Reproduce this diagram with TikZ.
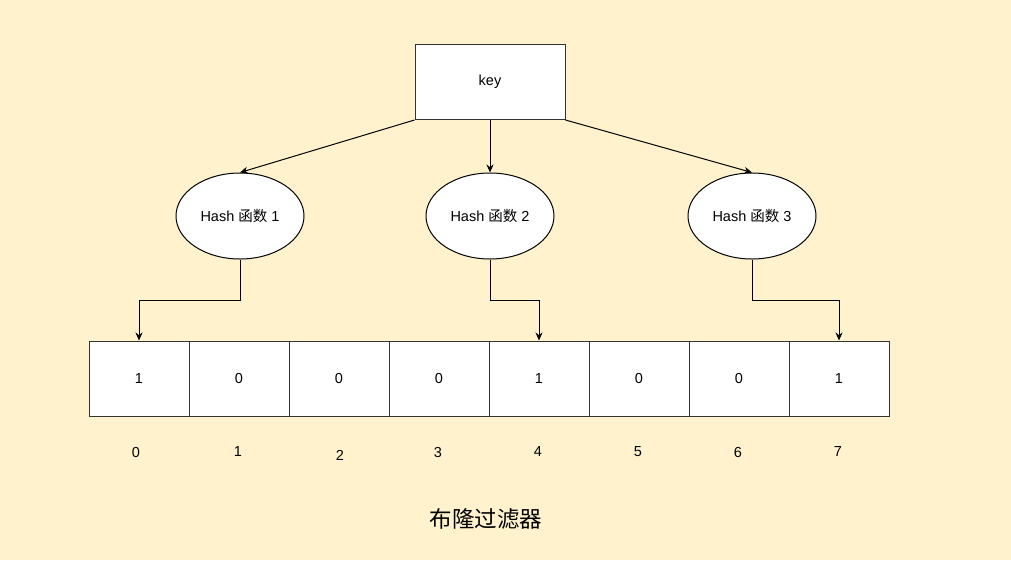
\documentclass[tikz,border=0pt]{standalone}
\usepackage{fontspec}
\setmainfont{Liberation Sans}
\newfontfamily\cjk{Noto Sans CJK SC}
\usetikzlibrary{arrows.meta,shapes.geometric}
\definecolor{bgyellow}{HTML}{FFF2CC}
\definecolor{edgegray}{HTML}{333333}
\begin{document}
\begin{tikzpicture}[x=1pt,y=-1pt,
  box/.style={draw=edgegray,line width=1pt,fill=white,minimum width=150pt,minimum height=75pt,inner sep=0pt,font=\fontsize{14.5}{17}\selectfont},
  hashfn/.style={draw=black,line width=1pt,fill=white,ellipse,minimum width=128pt,minimum height=86pt,inner sep=0pt,font=\fontsize{14.5}{17}\selectfont},
  cell/.style={draw=edgegray,line width=1pt,fill=white,minimum width=100pt,minimum height=75pt,inner sep=0pt,font=\fontsize{14.5}{17}\selectfont},
  idx/.style={font=\fontsize{14.5}{17}\selectfont,inner sep=0pt},
  link/.style={draw=black,line width=1pt,-{Stealth[length=8pt,width=7pt]}}
]
\fill[bgyellow] (0,0) rectangle (1011,560);
\useasboundingbox (0,0) rectangle (1011,560);

% key
\node[box] (key) at (490,82) {key};

% hash functions
\node[hashfn] (h1) at (240,216) {Hash {\cjk 函数} 1};
\node[hashfn] (h2) at (490,216) {Hash {\cjk 函数} 2};
\node[hashfn] (h3) at (752,216) {Hash {\cjk 函数} 3};

% bit array
\foreach \i/\v in {0/1,1/0,2/0,3/0,4/1,5/0,6/0,7/1} {
  \node[cell] (c\i) at (139+100*\i,378.5) {\v};
}

% bit positions
\foreach \i/\xx/\yy in {0/136/452,1/238/452,2/340/455,3/438/452,4/538/452,5/638/452,6/738/452,7/838/452} {
  \node[idx] (n\i) at (\xx,\yy) {\i};
}

% title
\node[font=\cjk\fontsize{22.5}{27}\selectfont,inner sep=0pt] (title) at (486,519) {布隆过滤器};

% key to hash functions
\draw[link] (key.south west) -- (h1.north);
\draw[link] (key.south) -- (h2.north);
\draw[link] (key.south east) -- (h3.north);

% hash functions to bits
\draw[link] (h1.south) -- ++(0,41) -| (c0.north);
\draw[link] (h2.south) -- ++(0,41) -| (c4.north);
\draw[link] (h3.south) -- ++(0,41) -| (c7.north);
\end{tikzpicture}
\end{document}
